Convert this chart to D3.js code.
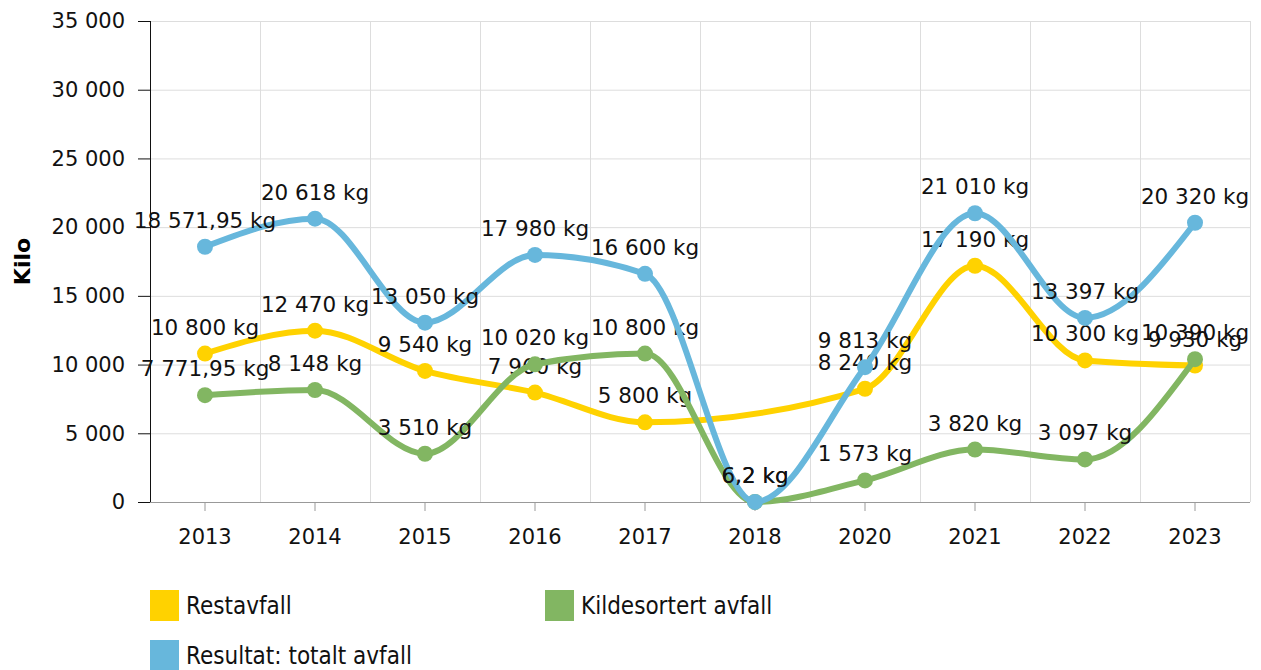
<!DOCTYPE html>
<html>
<head>
<meta charset="utf-8">
<script src="https://cdn.jsdelivr.net/npm/d3@7"></script>
<style>
  body { margin: 0; background: #fff; }
  svg text { font-family: "DejaVu Sans", Verdana, sans-serif; }
</style>
</head>
<body>
<div id="chart"></div>
<script>
// år (2019 mangler i kilden)
const years = ["2013", "2014", "2015", "2016", "2017", "2018", "2020", "2021", "2022", "2023"];
const restavfall = [10800, 12470, 9540, 7960, 5800, null, 8240, 17190, 10300, 9930];
const kildesortert = [7771.95, 8148, 3510, 10020, 10800, 6.2, 1573, 3820, 3097, 10390];
const totalt = [18571.95, 20618, 13050, 17980, 16600, 6.2, 9813, 21010, 13397, 20320];
const yTicks = [0, 5000, 10000, 15000, 20000, 25000, 30000, 35000];

const series = [
  { name: "Restavfall", values: restavfall, color: "#FFD200" },
  { name: "Kildesortert avfall", values: kildesortert, color: "#82B662" },
  { name: "Resultat: totalt avfall", values: totalt, color: "#67B7DC" }
];

const width = 1261, height = 670;
const plotLeft = 150, plotRight = 1250, plotTop = 21, plotBottom = 502;

const svg = d3.select("#chart").append("svg")
  .attr("width", width)
  .attr("height", height);

const x = d3.scaleBand().domain(years).range([plotLeft, plotRight]);
const y = d3.scaleLinear().domain([0, 35000]).range([plotBottom, plotTop]);

// tall med mellomrom som tusenskille, komma som desimal
const fmt = v => {
  const parts = String(v).split(".");
  const int = parts[0].replace(/\B(?=(\d{3})+(?!\d))/g, " ");
  return parts[1] ? int + "," + parts[1] : int;
};

// rutenett
svg.append("g").selectAll("line")
  .data(yTicks.slice(1))
  .enter().append("line")
  .attr("x1", plotLeft).attr("x2", plotRight)
  .attr("y1", d => y(d) + 0.5).attr("y2", d => y(d) + 0.5)
  .attr("stroke", "#dddddd").attr("stroke-width", 1);

svg.append("g").selectAll("line")
  .data(years)
  .enter().append("line")
  .attr("x1", d => x(d) + x.bandwidth() + 0.5).attr("x2", d => x(d) + x.bandwidth() + 0.5)
  .attr("y1", plotTop).attr("y2", plotBottom)
  .attr("stroke", "#dddddd").attr("stroke-width", 1);

// x-akse
const xAxis = svg.append("g")
  .attr("transform", `translate(0,${plotBottom})`)
  .call(d3.axisBottom(x).tickSize(9).tickPadding(18));
xAxis.select(".domain").attr("stroke", "#999999").attr("d", `M${plotLeft - 12},0.5H${plotRight}`);
xAxis.selectAll(".tick line").attr("stroke", "#999999");
xAxis.selectAll("text").attr("font-size", 21).attr("fill", "#111");

// y-akse
const yAxis = svg.append("g")
  .attr("transform", `translate(${plotLeft},0)`)
  .call(d3.axisLeft(y).tickValues(yTicks).tickFormat(fmt).tickSize(12).tickPadding(13));
yAxis.select(".domain").attr("stroke", "#111").attr("d", `M0.5,${plotTop}V${plotBottom}`);
yAxis.selectAll(".tick line").attr("stroke", "#111");
yAxis.selectAll("text").attr("font-size", 21).attr("fill", "#111");

svg.append("text")
  .attr("transform", `translate(30,${(plotTop + plotBottom) / 2}) rotate(-90)`)
  .attr("text-anchor", "middle")
  .attr("font-size", 22)
  .attr("font-weight", "bold")
  .text("Kilo");

const line = d3.line()
  .x(d => x(d.year) + x.bandwidth() / 2)
  .y(d => y(d.value))
  .curve(d3.curveMonotoneX);

series.forEach(s => {
  const pts = years.map((yr, i) => ({ year: yr, value: s.values[i] }))
    .filter(d => d.value != null);
  const g = svg.append("g");
  g.append("path")
    .datum(pts)
    .attr("d", line)
    .attr("fill", "none")
    .attr("stroke", s.color)
    .attr("stroke-width", 6);
  g.selectAll("circle")
    .data(pts)
    .enter().append("circle")
    .attr("cx", d => x(d.year) + x.bandwidth() / 2)
    .attr("cy", d => y(d.value))
    .attr("r", 8)
    .attr("fill", s.color);
  g.selectAll("text")
    .data(pts)
    .enter().append("text")
    .attr("x", d => x(d.year) + x.bandwidth() / 2)
    .attr("y", d => y(d.value) - 19)
    .attr("text-anchor", "middle")
    .attr("font-size", 21.5)
    .attr("fill", "#111")
    .text(d => fmt(d.value) + " kg");
});

// forklaring
const legend = [
  { s: series[0], x: 150, y: 590 },
  { s: series[1], x: 545, y: 590 },
  { s: series[2], x: 150, y: 640 }
];
const lg = svg.append("g").selectAll("g")
  .data(legend)
  .enter().append("g")
  .attr("transform", d => `translate(${d.x},${d.y})`);
lg.append("rect")
  .attr("width", 29).attr("height", 31)
  .attr("fill", d => d.s.color);
lg.append("text")
  .attr("x", 36).attr("y", 24)
  .attr("font-size", 24)
  .attr("fill", "#111")
  .style("font-family", "'DejaVu Sans Condensed', sans-serif")
  .text(d => d.s.name);
</script>
</body>
</html>
